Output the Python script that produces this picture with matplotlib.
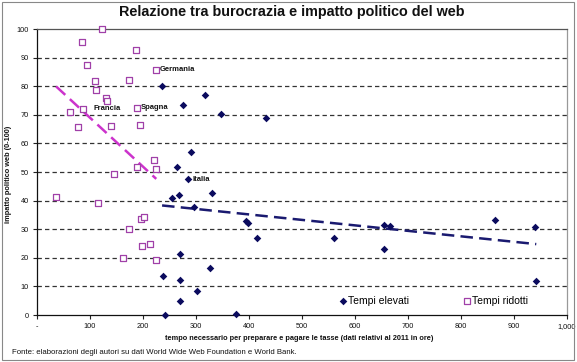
import numpy as np
import matplotlib
matplotlib.use("Agg")
import matplotlib.pyplot as plt
from matplotlib.patches import Rectangle

plt.rcParams['font.family'] = ['Liberation Sans', 'DejaVu Sans']

# Tempi elevati (hours, web impact)
elev_x = [236, 275, 317, 347, 433, 290, 265, 285, 330, 267, 255, 296, 394, 399,
          416, 270, 326, 238, 270, 302, 270, 241, 375, 655, 666, 561, 655, 865,
          940, 942]
elev_y = [80.2, 73.6, 76.9, 70.2, 69.0, 56.9, 51.9, 47.4, 42.7, 42.1, 40.9, 37.6,
          32.9, 32.2, 27.0, 21.4, 16.5, 13.8, 12.2, 8.5, 5.0, 0.0, 0.3, 31.6, 31.2,
          27.0, 23.0, 33.2, 30.6, 11.9]

# Tempi ridotti
rid_x = [122, 84, 94, 187, 109, 173, 111, 130, 132, 224, 188, 63, 87, 77, 140,
         194, 221, 188, 224, 145, 36, 116, 197, 201, 173, 199, 214, 162, 225]
rid_y = [100.0, 95.3, 87.3, 92.5, 81.7, 82.0, 78.8, 76.0, 75.0, 85.8, 72.5, 71.0,
         72.0, 65.7, 66.0, 66.4, 54.3, 51.8, 51.0, 49.2, 41.3, 39.2, 33.6, 34.3,
         30.0, 24.1, 24.8, 20.1, 19.2]

# labelled countries: (name, series, index)
labels = [("Germania", "rid", 9), ("Spagna", "rid", 10), ("Francia", "rid", 8),
          ("Italia", "elev", 7)]

xticks = list(range(0, 1001, 100))
xticklabels = ["-", "100", "200", "300", "400", "500", "600", "700", "800", "900", "1,000"]
yticks = list(range(0, 101, 10))

title = "Relazione tra burocrazia e impatto politico del web"
xlabel = "tempo necessario per preparare e pagare le tasse (dati relativi al 2011 in ore)"
ylabel = "impatto politico web (0-100)"
source = "Fonte: elaborazioni degli autori su dati World Wide Web Foundation e World Bank."

navy = "#0b0b5e"
purple = "#a040a8"
magenta = "#cc33cc"

fig = plt.figure(figsize=(5.77, 3.62), dpi=100)
ax = fig.add_axes([37/577, 1 - 315/362, 530/577, 286/362])

ax.set_xlim(0, 1000)
ax.set_ylim(0, 100)

for v in yticks[1:-1]:
    ax.axhline(v, color="#333333", lw=0.9, ls=(0, (3.5, 2.5)), zorder=1)

ax.scatter(elev_x, elev_y, marker="D", s=15, color=navy, zorder=4, clip_on=False,
           linewidths=0)
ax.scatter(rid_x, rid_y, marker="s", s=19, facecolors="white", edgecolors=purple,
           linewidths=0.9, zorder=4, clip_on=False)

# linear trendlines
for xs, ys, col in ((elev_x, elev_y, "#1a1a70"), (rid_x, rid_y, magenta)):
    xs = np.array(xs, float); ys = np.array(ys, float)
    m, b = np.polyfit(xs, ys, 1)
    xx = np.array([xs.min(), xs.max()])
    ax.plot(xx, m * xx + b, color=col, lw=1.8, ls=(0, (5, 2.5)), zorder=3)

for name, ser, i in labels:
    if ser == "rid":
        x, y = rid_x[i], rid_y[i]
    else:
        x, y = elev_x[i], elev_y[i]
    if name == "Francia":
        ax.annotate(name, (x, y), xytext=(0, -3.5), textcoords="offset points",
                    ha="center", va="top", fontsize=5.5, fontweight="bold", color="#111111")
    else:
        ax.annotate(name, (x, y), xytext=(3, 0), textcoords="offset points",
                    ha="left", va="center", fontsize=5.5, fontweight="bold", color="#111111")

ax.set_xticks(xticks)
ax.set_xticklabels(xticklabels)
ax.set_yticks(yticks)
ax.tick_params(axis="both", labelsize=5.3, length=3, width=0.8, color="#222222",
               direction="out", pad=3, labelcolor="#111111")

for s in ("left", "bottom"):
    ax.spines[s].set_color("#111111")
    ax.spines[s].set_linewidth(0.9)
ax.spines["top"].set_color("#555555")
ax.spines["top"].set_linewidth(0.9)
ax.spines["right"].set_color("#999999")
ax.spines["right"].set_linewidth(0.9)

ax.set_xlabel(xlabel, fontsize=5.3, fontweight="bold", color="#111111")
ax.xaxis.set_label_coords(0.495, -0.07)
ax.set_ylabel(ylabel, fontsize=5.3, fontweight="bold", color="#111111")
ax.yaxis.set_label_coords(-0.047, 0.49)

fig.text(0.505, 1 - 12/362, title, ha="center", va="center", fontsize=10.4,
         fontweight="bold", color="#111111")
fig.text(12/577, 1 - 352/362, source, ha="left", va="center", fontsize=5.6,
         color="#111111")

# legend
h1 = ax.scatter([], [], marker="D", s=15, color=navy, linewidths=0)
h2 = ax.scatter([], [], marker="s", s=19, facecolors="white", edgecolors=purple,
                linewidths=0.9)
leg = ax.legend([h1, h2], ["Tempi elevati", "Tempi ridotti"], loc="lower right",
                bbox_to_anchor=(0.945, 0.0), ncol=2, frameon=False,
                fontsize=7.5, handletextpad=0.05, columnspacing=5.0,
                scatterpoints=1, handlelength=1.0)

fig.patches.append(Rectangle((2/577, 2/362), 572/577, 358/362, transform=fig.transFigure,
                             fill=False, edgecolor="#888888", lw=0.8))

fig.savefig("out.png", dpi=100)
